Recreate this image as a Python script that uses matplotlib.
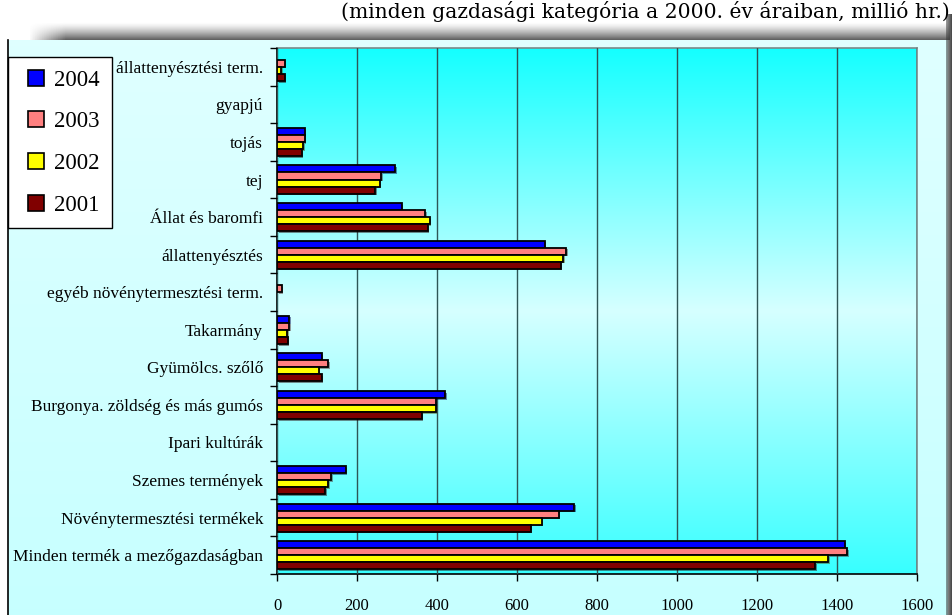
import numpy as np
import matplotlib
matplotlib.use("Agg")
import matplotlib.pyplot as plt
from matplotlib.lines import Line2D
import matplotlib.patheffects as pe

categories = ["állattenyésztési term.", "gyapjú", "tojás", "tej", "Állat és baromfi",
              "állattenyésztés", "egyéb növénytermesztési term.", "Takarmány",
              "Gyümölcs. szőlő", "Burgonya. zöldség és más gumós", "Ipari kultúrák",
              "Szemes termények", "Növénytermesztési termékek",
              "Minden termék a mezőgazdaságban"]
years = ["2004", "2003", "2002", "2001"]
v2004 = [0, 0, 69, 296, 312, 669, 0, 31, 112, 420, 0, 172, 743, 1419]
v2003 = [19, 0, 69, 261, 370, 723, 12, 31, 128, 397, 0, 136, 704, 1425]
v2002 = [11, 0, 66, 257, 382, 715, 0, 26, 104, 397, 0, 128, 662, 1378]
v2001 = [19, 0, 62, 245, 377, 709, 0, 27, 112, 362, 0, 121, 634, 1345]
xticks = [0, 200, 400, 600, 800, 1000, 1200, 1400, 1600]
title = "(minden gazdasági kategória a 2000. év áraiban, millió hr.)"

series = [v2004, v2003, v2002, v2001]
colors = ["#0000FF", "#FF8080", "#FFFF00", "#800000"]

W, H = 953, 615
fig = plt.figure(figsize=(W / 100, H / 100), dpi=100)

# background layer in pixel coords
bg = fig.add_axes([0, 0, 1, 1], zorder=-10)
bg.set_xlim(0, W)
bg.set_ylim(H, 0)
bg.axis("off")

# chart area gradient
ca = np.linspace(0, 1, 100)[:, None, None]
top_c = np.array([0.875, 1.0, 1.0])
bot_c = np.array([0.78, 1.0, 1.0])
img = top_c * (1 - ca) + bot_c * ca
img = np.repeat(img, 2, axis=1)
bg.imshow(img, extent=[8, 948, 615, 40], aspect="auto", zorder=1)
bg.plot([8, 8], [40, 615], color="black", lw=1.2, zorder=3)

# top shadow band
sh = np.zeros((40, 400, 4))
vy = np.linspace(0, 1, 40)[:, None] ** 1.4
hx = np.clip(np.linspace(0, 1, 400)[None, :] * 25, 0, 1)
sh[..., :3] = 0.3
sh[..., 3] = 0.9 * vy * hx
bg.imshow(sh, extent=[28, 950, 40, 22], aspect="auto", zorder=2)
# right shadow strip
rs = np.zeros((10, 20, 4))
rs[..., :3] = 0.22
rs[..., 3] = np.linspace(0.5, 1, 20)[None, :]
bg.imshow(rs, extent=[946, 953, 615, 14], aspect="auto", zorder=2)

# main axes
L, R, T, B = 277, 917, 48, 574
ax = fig.add_axes([L / W, 1 - B / H, (R - L) / W, (B - T) / H])
n = len(categories)
ax.set_xlim(0, 1600)
ax.set_ylim(-0.5, n - 0.5)

# plot area gradient
t = np.linspace(0, 1, 200)
w = 1 - np.abs(t - 0.5) * 2
cyan = np.array([0.08, 1.0, 1.0])
light = np.array([0.84, 1.0, 1.0])
grad = cyan[None, :] * (1 - w[:, None]) + light[None, :] * w[:, None]
grad[100:] = np.array([0.22, 1.0, 1.0]) * (1 - w[100:, None]) + light * w[100:, None]
ax.imshow(grad[:, None, :], extent=[0, 1600, -0.5, n - 0.5], aspect="auto",
          zorder=0, origin="upper")

ypos = np.arange(n)[::-1]
h = 0.187
for k, (vals, col, yr) in enumerate(zip(series, colors, years)):
    y = ypos + (1.5 - k) * h
    bars = ax.barh(y, vals, height=h, color=col, edgecolor="black", linewidth=1.3,
                   zorder=3, label=yr)
    for b, v in zip(bars, vals):
        if v == 0:
            b.set_visible(False)
        b.set_path_effects([pe.SimplePatchShadow(offset=(1.2, -1.2), alpha=0.45),
                            pe.Normal()])

ax.set_xticks(xticks)
ax.set_xticklabels([str(v) for v in xticks])
ax.grid(axis="x", color="#2e5555", lw=1.0, zorder=1)
ax.set_axisbelow(False)
ax.set_yticks(ypos)
ax.set_yticklabels(categories)
ax.set_yticks(np.arange(-0.5, n, 1.0), minor=True)
ax.tick_params(axis="y", which="major", length=0, pad=10)
ax.tick_params(axis="y", which="minor", length=5, width=1, direction="out")
ax.tick_params(axis="x", length=5, width=1, direction="out", pad=12)
for lab in ax.get_yticklabels():
    lab.set_fontfamily("Liberation Serif")
    lab.set_fontsize(12.5)
for lab in ax.get_xticklabels():
    lab.set_fontfamily("Liberation Serif")
    lab.set_fontsize(12)
for s in ["left", "bottom"]:
    ax.spines[s].set_color("black")
    ax.spines[s].set_linewidth(1.2)
for s in ["top", "right"]:
    ax.spines[s].set_color("#7a8a8a")
    ax.spines[s].set_linewidth(1.2)

# legend
handles = [Line2D([], [], linestyle="none", marker="s", markersize=11,
                  markerfacecolor=c, markeredgecolor="black", markeredgewidth=1.2,
                  label=y)
           for c, y in zip(colors, years)]
leg = fig.legend(handles=handles, loc="upper left",
                 bbox_to_anchor=(8 / W, 1 - 57 / H),
                 prop={"family": "Liberation Serif", "size": 16.5},
                 frameon=True, fancybox=False, framealpha=1, edgecolor="black",
                 handlelength=1.3, handletextpad=0.15,
                 labelspacing=0.9, borderpad=0.55, borderaxespad=0)
leg.get_frame().set_linewidth(1.0)
leg.set_zorder(20)

fig.text(950 / W, 1 - 12 / H, title, ha="right", va="center",
         fontfamily="DejaVu Serif", fontsize=14.6, color="black")

fig.savefig("out.png", dpi=100)
